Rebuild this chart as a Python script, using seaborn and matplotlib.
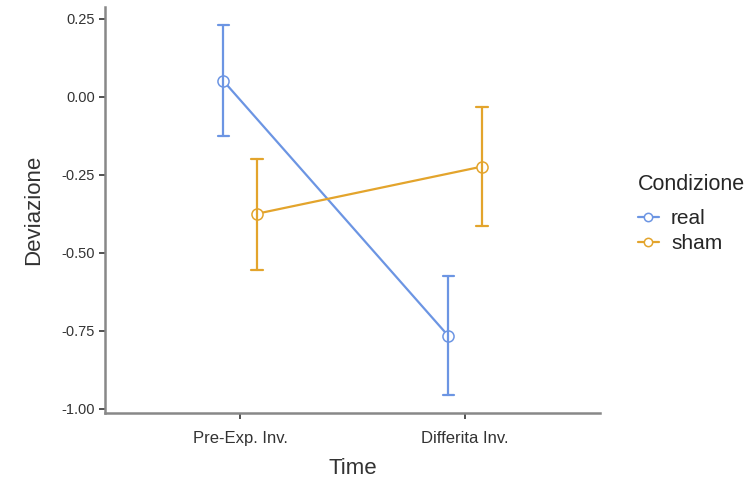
import pandas as pd
import numpy as np
import matplotlib.pyplot as plt
import seaborn as sns

# Valori: media e intervallo di confidenza
times = ["Pre-Exp. Inv.", "Differita Inv."]
conditions = ["real", "sham"]
real_mean = [0.051, -0.766]
real_lo = [-0.125, -0.955]
real_hi = [0.231, -0.574]
sham_mean = [-0.375, -0.224]
sham_lo = [-0.554, -0.413]
sham_hi = [-0.199, -0.032]

colors = {"real": "#6C95E3", "sham": "#E3A42C"}

# tabella: per ogni cella lo, media, hi -> mediana = media, range = CI
rows = []
for cond, m, lo, hi in [("real", real_mean, real_lo, real_hi),
                        ("sham", sham_mean, sham_lo, sham_hi)]:
    for i, t in enumerate(times):
        for v in (lo[i], m[i], hi[i]):
            rows.append({"Time": t, "Condizione": cond, "Deviazione": v})
df = pd.DataFrame(rows)

sns.set_style("ticks")
plt.rcParams["font.family"] = ["Liberation Sans", "DejaVu Sans"]

fig = plt.figure(figsize=(7.51, 4.84), dpi=100)
ax = fig.add_axes([0.14, 0.147, 0.659, 0.839])

sns.pointplot(data=df, x="Time", y="Deviazione", hue="Condizione",
              order=times, hue_order=conditions, palette=colors,
              estimator="median", errorbar=("pi", 100), dodge=0.15,
              capsize=0.05, markers="o", markersize=8,
              markerfacecolor="white", markeredgewidth=1.1,
              linewidth=1.6, err_kws={"linewidth": 1.6}, ax=ax)

ax.set_xlim(-0.6, 1.6)
ax.set_ylim(-1.013, 0.288)
ax.set_yticks([0.25, 0.0, -0.25, -0.5, -0.75, -1.0])
ax.set_yticklabels(["0.25", "0.00", "-0.25", "-0.50", "-0.75", "-1.00"])
ax.tick_params(colors="#333333", length=4, width=1.2)
ax.tick_params(axis="y", labelsize=10.5)
ax.tick_params(axis="x", labelsize=12, pad=9)
ax.set_xlabel("Time", fontsize=16, color="#333333", labelpad=9)
ax.set_ylabel("Deviazione", fontsize=16, color="#333333", labelpad=12)

for s in ["top", "right"]:
    ax.spines[s].set_visible(False)
for s in ["left", "bottom"]:
    ax.spines[s].set_color("#888888")
    ax.spines[s].set_linewidth(1.8)

leg = ax.legend(title="Condizione", loc="center left", bbox_to_anchor=(1.055, 0.49),
                frameon=False, fontsize=15, title_fontsize=15.5, handlelength=1.0,
                handletextpad=0.6, labelspacing=0.3, borderpad=0.3,
                borderaxespad=0.2)
leg._legend_box.align = "left"
leg._legend_box.sep = 10
for h in leg.legend_handles:
    h.set_markersize(6)

fig.savefig("out.png", dpi=100)
